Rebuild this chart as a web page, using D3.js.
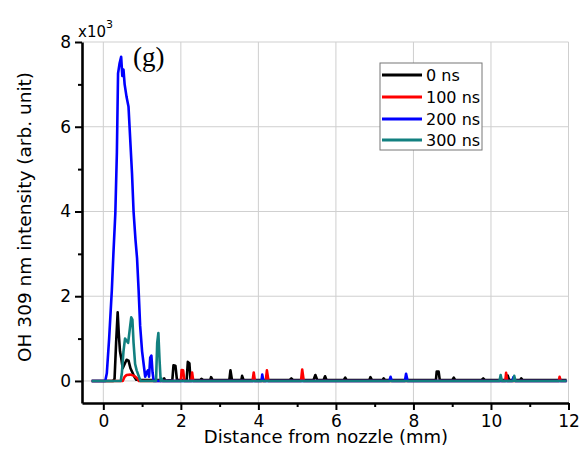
<!DOCTYPE html>
<html><head><meta charset="utf-8">
<script src="https://cdn.jsdelivr.net/npm/d3@7"></script>
<style>body{margin:0;background:#fff}svg{display:block}</style>
</head><body>
<svg id="c" width="584" height="449"></svg>
<script>
// ---- data (x in mm, intensity in arb. unit) ----
const seriesNames = ["0 ns", "100 ns", "200 ns", "300 ns"];
const seriesColors = ["#000000", "#ff0000", "#0000ff", "#128080"];
const ns0 = [[-0.3,0],[0.25,0],[0.29,50],[0.33,900],[0.37,1620],[0.4,1100],[0.43,700],[0.46,550],[0.5,300],[0.55,400],[0.6,500],[0.65,480],[0.7,300],[0.75,200],[0.8,100],[0.85,30],[1.0,20],[1.55,20],[1.57,60],[1.6,10],[1.78,20],[1.81,370],[1.86,360],[1.9,20],[2.15,20],[2.18,450],[2.22,420],[2.25,20],[2.5,20],[2.53,50],[2.58,20],[2.76,20],[2.78,90],[2.82,20],[3.25,20],[3.28,250],[3.32,20],[3.56,20],[3.58,120],[3.62,20],[4.8,20],[4.85,60],[4.9,20],[5.42,20],[5.47,140],[5.52,20],[5.68,20],[5.72,110],[5.76,20],[6.2,20],[6.24,80],[6.28,20],[6.86,20],[6.89,90],[6.93,20],[7.2,20],[7.23,60],[7.27,20],[8.58,20],[8.6,220],[8.65,220],[8.68,20],[9.0,20],[9.04,80],[9.08,20],[9.75,20],[9.8,60],[9.85,20],[10.4,20],[10.43,130],[10.47,20],[10.75,20],[10.78,60],[10.82,20],[11.95,20]];
const ns100 = [[-0.3,0],[0.5,0],[0.55,100],[0.6,140],[0.7,150],[0.8,120],[0.88,60],[0.92,0],[2.0,0],[2.02,260],[2.06,250],[2.09,0],[2.27,0],[2.29,200],[2.32,0],[3.85,0],[3.88,200],[3.91,0],[4.19,0],[4.22,250],[4.26,0],[5.1,0],[5.13,270],[5.17,0],[10.37,0],[10.39,190],[10.42,0],[11.75,0],[11.77,100],[11.8,0],[11.95,0]];
const ns200 = [[-0.3,0],[0.05,0],[0.09,180],[0.15,1000],[0.22,2150],[0.26,3000],[0.31,3960],[0.35,5400],[0.38,7260],[0.42,7500],[0.46,7650],[0.49,7200],[0.52,7350],[0.55,7000],[0.6,6700],[0.65,6470],[0.74,4900],[0.78,4000],[0.83,3330],[0.87,2900],[0.91,2150],[0.95,1300],[1.0,700],[1.04,400],[1.08,100],[1.12,200],[1.15,250],[1.18,100],[1.21,550],[1.24,600],[1.27,200],[1.3,0],[4.08,0],[4.1,150],[4.13,0],[7.38,0],[7.41,100],[7.44,0],[7.78,0],[7.81,170],[7.85,0],[10.55,0],[10.58,90],[10.62,0],[11.95,0]];
const ns300 = [[-0.3,0],[0.45,0],[0.48,200],[0.52,700],[0.56,1000],[0.6,950],[0.64,900],[0.68,1200],[0.72,1500],[0.75,1450],[0.78,900],[0.82,400],[0.86,250],[0.9,150],[0.96,0],[1.36,0],[1.39,900],[1.42,1130],[1.45,500],[1.48,0],[1.5,60],[1.53,0],[10.22,0],[10.25,140],[10.28,0],[10.58,0],[10.6,120],[10.63,0],[11.95,0]];
const allSeries = [ns0, ns100, ns200, ns300];
const xMajorTicks = [0, 2, 4, 6, 8, 10, 12];
const xMinorTicks = [1, 3, 5, 7, 9, 11];
const yMajorTicks = [0, 2000, 4000, 6000, 8000];
const yMinorTicks = [1000, 3000, 5000, 7000];

const svg = d3.select("#c");
const x = d3.scaleLinear().domain([-0.55, 12]).range([82, 568.5]);
const y = d3.scaleLinear().domain([-520, 8000]).range([403, 42]);
const FONT = "DejaVu Sans, Arial, sans-serif";

// grid
const grid = svg.append("g").attr("stroke", "#cfcfcf").attr("stroke-width", 1);
xMajorTicks.forEach(t => grid.append("line").attr("x1", x(t)).attr("x2", x(t)).attr("y1", y(8000)).attr("y2", y(-520)));
yMajorTicks.forEach(t => grid.append("line").attr("x1", x(-0.55)).attr("x2", x(12)).attr("y1", y(t)).attr("y2", y(t)));

// lines
const line = d3.line().x(d => x(d[0])).y(d => y(d[1]));
allSeries.forEach((s, i) => {
  svg.append("path").datum(s).attr("d", line).attr("fill", "none")
    .attr("stroke", seriesColors[i]).attr("stroke-width", 2.6).attr("stroke-linejoin", "round");
});

// axes
const yAx = svg.append("g").attr("transform", `translate(${x(-0.55)},0)`)
  .call(d3.axisLeft(y).tickValues(yMajorTicks).tickFormat(d => d / 1000).tickSize(7).tickSizeOuter(0).tickPadding(4));
svg.append("g").attr("transform", `translate(${x(-0.55)},0)`)
  .call(d3.axisLeft(y).tickValues(yMinorTicks).tickFormat("").tickSize(4).tickSizeOuter(0))
  .select(".domain").remove();
const xAx = svg.append("g").attr("transform", `translate(0,${y(-520)})`)
  .call(d3.axisBottom(x).tickValues(xMajorTicks).tickFormat(d3.format("d")).tickSize(7).tickSizeOuter(0).tickPadding(5));
svg.append("g").attr("transform", `translate(0,${y(-520)})`)
  .call(d3.axisBottom(x).tickValues(xMinorTicks).tickFormat("").tickSize(4).tickSizeOuter(0))
  .select(".domain").remove();
svg.selectAll(".domain").attr("stroke-width", 2.6).attr("stroke", "#000");
svg.selectAll(".tick line").attr("stroke-width", 2).attr("stroke", "#000");
svg.selectAll(".tick text").attr("font-family", FONT).attr("font-size", 17).attr("fill", "#000");

// multiplier
const mult = svg.append("text").attr("x", 78).attr("y", 37).attr("font-family", FONT).attr("font-size", 15);
mult.append("tspan").text("x10");
mult.append("tspan").attr("dy", -9).attr("font-size", 11).text("3");

// panel label
svg.append("text").attr("x", 133).attr("y", 66).attr("font-family", "Liberation Serif, Times New Roman, serif")
  .attr("font-size", 27).text("(g)");

// axis titles
svg.append("text").attr("x", 326).attr("y", 443).attr("text-anchor", "middle")
  .attr("font-family", FONT).attr("font-size", 18).text("Distance from nozzle (mm)");
svg.append("text").attr("transform", "translate(31,217) rotate(-90)").attr("text-anchor", "middle")
  .attr("font-family", FONT).attr("font-size", 18.5).text("OH 309 nm intensity (arb. unit)");

// legend
const lg = svg.append("g");
lg.append("rect").attr("x", 380).attr("y", 63).attr("width", 102).attr("height", 87)
  .attr("fill", "#fff").attr("stroke", "#777").attr("stroke-width", 1);
const rowY = [75, 97, 119, 140];
seriesNames.forEach((n, i) => {
  lg.append("line").attr("x1", 382).attr("x2", 422).attr("y1", rowY[i]).attr("y2", rowY[i])
    .attr("stroke", seriesColors[i]).attr("stroke-width", 3);
  lg.append("text").attr("x", 426).attr("y", rowY[i] + 6).attr("font-family", FONT).attr("font-size", 16).text(n);
});
</script>
</body></html>
